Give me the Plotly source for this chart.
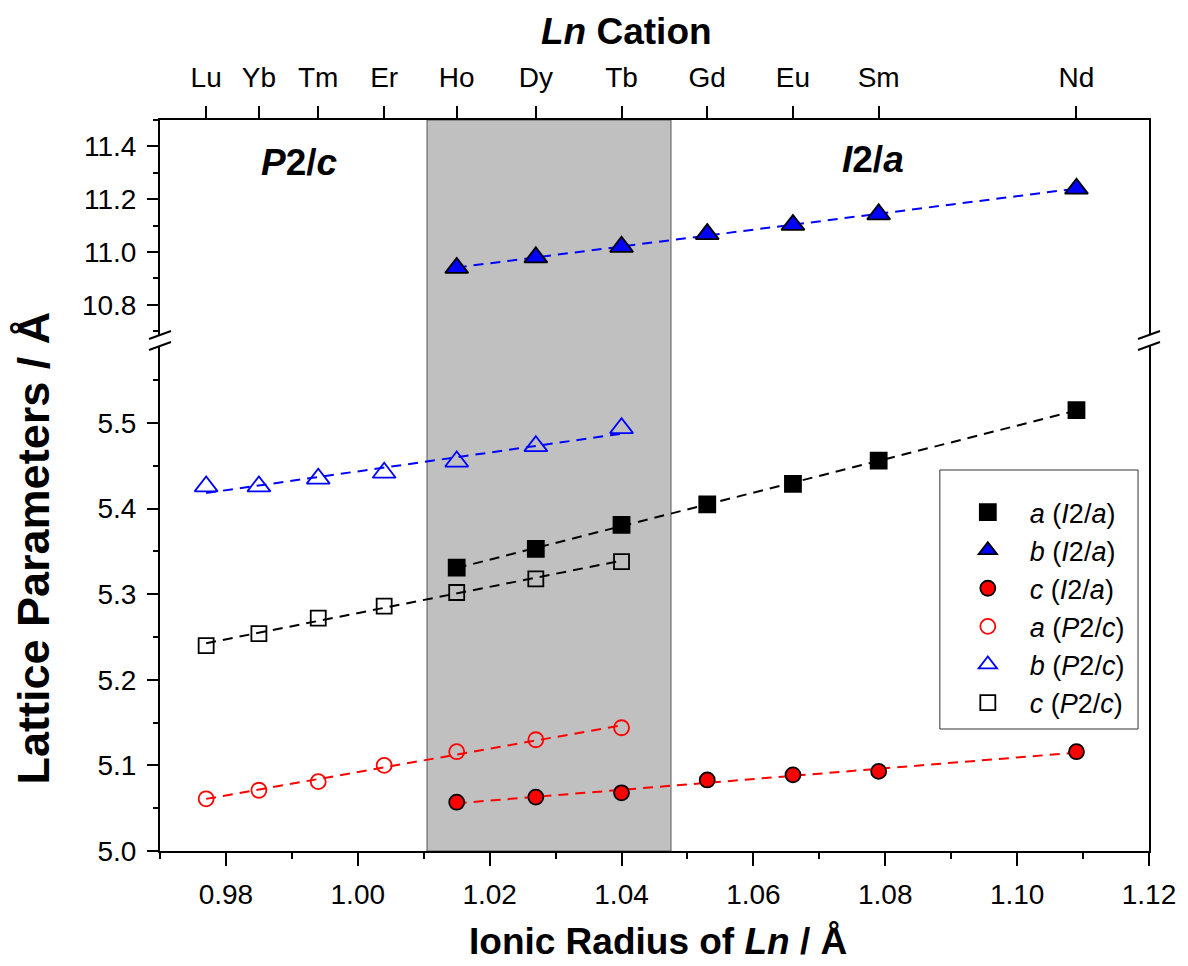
import numpy as np
import plotly.graph_objects as go

# ---------------- data ----------------
cations = ["Lu", "Yb", "Tm", "Er", "Ho", "Dy", "Tb", "Gd", "Eu", "Sm", "Nd"]
radii = [0.977, 0.985, 0.994, 1.004, 1.015, 1.027, 1.040, 1.053, 1.066, 1.079, 1.109]

# I2/a phase (Ho .. Nd)
r_I2a = [1.015, 1.027, 1.040, 1.053, 1.066, 1.079, 1.109]
a_I2a = [5.331, 5.353, 5.381, 5.405, 5.429, 5.456, 5.515]
b_I2a = [10.940, 10.980, 11.020, 11.068, 11.103, 11.143, 11.240]
c_I2a = [5.057, 5.063, 5.068, 5.083, 5.089, 5.093, 5.116]

# P2/c phase (Lu .. Tb)
r_P2c = [0.977, 0.985, 0.994, 1.004, 1.015, 1.027, 1.040]
a_P2c = [5.061, 5.071, 5.081, 5.100, 5.116, 5.130, 5.144]
b_P2c = [5.426, 5.426, 5.435, 5.442, 5.455, 5.473, 5.494]
c_P2c = [5.240, 5.254, 5.272, 5.286, 5.302, 5.318, 5.338]

two_phase = [1.0105, 1.0475]

FONT = "Liberation Sans, Arial, sans-serif"
TICKSIZE = 28
TS = 37

fig = go.Figure()


def fit_line(x, y, color, xa, ya):
    p = np.polyfit(x, y, 1)
    xs = np.array([min(x), max(x)])
    fig.add_trace(go.Scatter(x=xs, y=np.polyval(p, xs), mode="lines",
                             line=dict(color=color, width=2, dash="10px,7px"),
                             showlegend=False, hoverinfo="skip",
                             xaxis=xa, yaxis=ya))


fit_line(r_I2a, b_I2a, "#0000ff", "x2", "y2")
fit_line(r_I2a, a_I2a, "black", "x", "y")
fit_line(r_I2a, c_I2a, "#ff0000", "x", "y")
fit_line(r_P2c, a_P2c, "#ff0000", "x", "y")
fit_line(r_P2c, b_P2c, "#0000ff", "x", "y")
fit_line(r_P2c, c_P2c, "black", "x", "y")

series = [
    (r_I2a, a_I2a, "<i>a</i> (<i>I</i>2/<i>a</i>)", "square", 16, "black", "black", "x", "y"),
    (r_I2a, b_I2a, "<i>b</i> (<i>I</i>2/<i>a</i>)", "triangle-up", 20, "#0000ff", "black", "x2", "y2"),
    (r_I2a, c_I2a, "<i>c</i> (<i>I</i>2/<i>a</i>)", "circle", 15, "#ff0000", "black", "x", "y"),
    (r_P2c, a_P2c, "<i>a</i> (<i>P</i>2/<i>c</i>)", "circle-open", 15, "#ff0000", "#ff0000", "x", "y"),
    (r_P2c, b_P2c, "<i>b</i> (<i>P</i>2/<i>c</i>)", "triangle-up-open", 20, "#0000ff", "#0000ff", "x", "y"),
    (r_P2c, c_P2c, "<i>c</i> (<i>P</i>2/<i>c</i>)", "square-open", 15, "black", "black", "x", "y"),
]
for i, (x, y, name, sym, size, fc, lc, xa, ya) in enumerate(series):
    fig.add_trace(go.Scatter(
        x=x, y=y, mode="markers", name=name, legendgroup=str(i),
        marker=dict(symbol=sym, size=size, color=fc, line=dict(color=lc, width=1.8)),
        xaxis=xa, yaxis=ya))

# layout geometry
W, H = 1188, 966
L, R, T, B = 160, 35, 120, 115
pw = W - L - R
ph = H - T - B
low_top = (851 - 346) / ph
up_bot = (851 - 335) / ph

xr = [0.97, 1.12]
axis_common = dict(showline=True, linecolor="black", linewidth=2, ticks="outside",
                   tickwidth=2, tickcolor="black", showgrid=False, zeroline=False,
                   tickfont=dict(family=FONT, size=TICKSIZE, color="black"))

fig.update_layout(
    width=W, height=H, margin=dict(l=L, r=R, t=T, b=B),
    paper_bgcolor="white", plot_bgcolor="white",
    font=dict(family=FONT, color="black"),
    xaxis=dict(domain=[0, 1], anchor="y", range=xr, dtick=0.02, tick0=0.98,
               tickformat=".2f", ticklen=13, ticklabelstandoff=4,
               minor=dict(dtick=0.01, tick0=0.97, ticks="outside", ticklen=6,
                          tickwidth=2, tickcolor="black"),
               **axis_common),
    xaxis2=dict(domain=[0, 1], anchor="y2", side="top", range=xr, matches="x",
                tickmode="array", tickvals=radii, ticktext=cations, ticklen=12,
                ticklabelstandoff=8,
                **axis_common),
    yaxis=dict(domain=[0, low_top], anchor="x", range=[5.0, 5.59], dtick=0.1,
               tick0=5.0, tickformat=".1f", ticklen=11, mirror=True,
               ticklabelstandoff=5,
               minor=dict(dtick=0.05, ticks="outside", ticklen=5, tickwidth=2,
                          tickcolor="black"),
               **axis_common),
    yaxis2=dict(domain=[up_bot, 1], anchor="x2", range=[10.686, 11.5], dtick=0.2,
                tick0=10.8, tickformat=".1f", ticklen=11, mirror=True,
                ticklabelstandoff=5,
                minor=dict(dtick=0.1, ticks="outside", ticklen=5, tickwidth=2,
                           tickcolor="black"),
                **axis_common),
    legend=dict(x=(949 - L) / pw, y=(851 - 488) / ph, xanchor="left", yanchor="top",
                bgcolor="rgba(0,0,0,0)", borderwidth=0,
                font=dict(family=FONT, size=27, color="black"),
                tracegroupgap=0, itemwidth=74),
    showlegend=True,
)

# shaded two-phase region
fig.add_shape(type="rect", xref="x", yref="paper", x0=two_phase[0], x1=two_phase[1],
              y0=0, y1=1, fillcolor="#c0c0c0", line=dict(color="#555555", width=1),
              layer="below")

# legend frame
fig.add_shape(type="rect", xref="paper", yref="paper",
              x0=(943 - L) / pw, x1=(1142 - L) / pw,
              y0=(851 - 729) / ph, y1=(851 - 470) / ph,
              fillcolor="white", line=dict(color="#333333", width=1), layer="above")

# axis break marks
for xp in (0, 1):
    for yp in (up_bot, low_top):
        fig.add_shape(type="line", xref="paper", yref="paper",
                      xsizemode="pixel", ysizemode="pixel",
                      xanchor=xp, yanchor=yp, x0=-11, x1=11, y0=-4, y1=4,
                      line=dict(color="black", width=2))

fig.add_annotation(text="<b><i>P</i>2/<i>c</i></b>", x=0.9912, y=11.34, xref="x2", yref="y2",
                   showarrow=False, xanchor="center", yanchor="middle",
                   font=dict(family=FONT, size=TS))
fig.add_annotation(text="<b><i>I</i>2/<i>a</i></b>", x=1.0782, y=11.35, xref="x2", yref="y2",
                   showarrow=False, xanchor="center", yanchor="middle",
                   font=dict(family=FONT, size=TS))
fig.add_annotation(text="<b><i>Ln</i> Cation</b>", x=(628 - L) / pw, y=(851 - 32) / ph,
                   xref="paper", yref="paper", showarrow=False,
                   xanchor="center", yanchor="middle",
                   font=dict(family=FONT, size=TS))
fig.add_annotation(text="<b>Ionic Radius of <i>Ln</i> / Å</b>", x=(660 - L) / pw,
                   y=(851 - 941) / ph, xref="paper", yref="paper", showarrow=False,
                   xanchor="center", yanchor="middle",
                   font=dict(family=FONT, size=TS))
fig.add_annotation(text="<b>Lattice Parameters / Å</b>", x=(32 - L) / pw,
                   y=(851 - 548) / ph, xref="paper", yref="paper", showarrow=False,
                   xanchor="center", yanchor="middle",
                   textangle=-90, font=dict(family=FONT, size=45))

fig.write_html("out.html")
